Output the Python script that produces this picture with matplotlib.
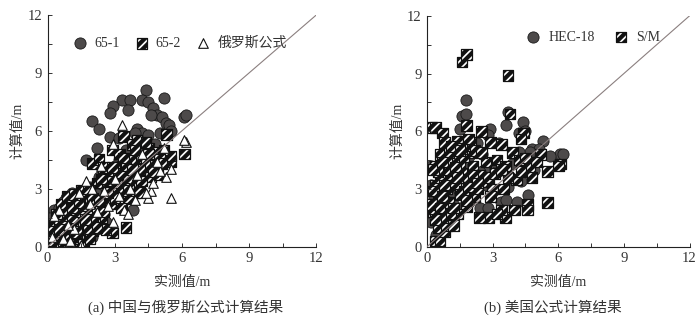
import matplotlib
matplotlib.use("Agg")
import matplotlib.pyplot as plt
from matplotlib.ticker import MultipleLocator

plt.rcParams["font.family"] = ["Liberation Serif", "Noto Sans CJK SC"]
plt.rcParams["hatch.linewidth"] = 3.0

# (a) China / Russia formulas
c651_x = [4.4, 3.3, 3.7, 4.2, 5.2, 4.5, 2.9, 3.6, 2.8, 4.7, 4.9, 4.6, 5.1, 6.1, 6.2, 2.0, 2.3, 4.0,
          4.2, 3.9, 5.3, 5.4, 5.5, 5.0, 2.8, 3.2, 4.5, 2.2, 3.5, 1.7, 3.2, 3.3, 2.3, 2.6, 0.8, 1.1,
          3.8, 0.5, 0.2, 0.3, 0.4, 0.6, 0.7, 0.9, 1.0, 1.2, 1.3, 1.4, 1.5, 1.6, 1.8, 1.9, 2.1, 0.1,
          0.3, 0.5, 0.6, 0.8, 1.0, 1.1, 1.3, 1.5, 1.7, 0.2, 0.4, 0.7, 0.9, 1.2, 1.4, 1.6, 0.3, 0.6,
          0.8, 1.0, 1.2, 0.5, 0.9, 1.5, 1.1, 0.4, 2.4, 2.7, 3.0, 3.4, 4.1, 4.3, 4.8, 1.9, 2.2, 0.7,
          0.1, 0.2, 0.3, 0.4, 0.5, 0.6, 0.7, 0.8, 0.9, 1.0, 1.1, 1.2, 1.3, 1.4, 1.6, 1.7, 1.8, 2.0,
          0.2, 0.4, 0.6, 0.8, 1.0, 1.2, 1.4, 1.6, 1.8, 2.0, 2.2, 0.3, 0.5, 0.7, 0.9, 1.1, 1.3, 1.5,
          1.7, 1.9, 2.1, 2.3, 0.1, 0.4, 0.8, 1.2, 1.6, 2.0, 2.5, 0.6, 1.0, 1.4, 1.8, 2.2, 2.6]
c651_y = [8.1, 7.6, 7.6, 7.6, 7.7, 7.5, 7.3, 7.1, 6.9, 7.2, 6.8, 6.8, 6.7, 6.7, 6.8, 6.5, 6.1, 6.1,
          5.9, 5.9, 6.4, 6.3, 6.0, 5.9, 5.7, 5.6, 5.8, 5.1, 5.0, 4.5, 4.5, 4.3, 3.6, 3.3, 2.5, 2.8,
          1.9, 1.7, 0.4, 1.0, 1.3, 0.9, 1.6, 2.0, 2.3, 1.8, 2.6, 2.1, 1.4, 2.4, 2.0, 1.7, 2.2, 0.2,
          0.1, 0.6, 0.3, 0.7, 1.1, 0.5, 0.9, 0.8, 1.2, 0.8, 0.3, 1.1, 1.4, 1.5, 1.0, 1.7, 1.9, 2.1,
          1.6, 0.6, 0.2, 1.2, 0.4, 0.0, 0.9, 0.7, 2.9, 3.0, 4.2, 3.9, 5.2, 4.9, 5.3, 3.1, 2.7, 0.1,
          0.7, 1.2, 0.6, 0.9, 1.4, 1.8, 0.3, 1.2, 0.6, 1.7, 1.3, 0.4, 2.1, 1.5, 0.6, 1.9, 1.0, 2.5,
          0.0, 1.6, 1.3, 2.1, 0.9, 2.4, 1.8, 1.0, 2.6, 1.5, 2.0, 0.5, 2.0, 2.3, 1.8, 2.6, 0.6, 2.0,
          0.4, 2.4, 1.2, 2.1, 1.5, 0.2, 0.4, 0.1, 0.3, 0.5, 1.7, 1.4, 0.1, 0.3, 0.7, 0.9, 1.3]
c652_x = [3.4, 5.3, 6.1, 5.5, 5.5, 3.5, 2.9, 2.0, 2.3, 2.9, 3.8, 4.5, 4.7, 5.2, 4.2, 3.0, 3.3, 3.6,
          4.0, 4.3, 4.6, 2.2, 2.6, 2.8, 3.1, 3.4, 3.9, 4.4, 2.1, 1.8, 1.5, 2.4, 2.0, 2.6, 1.2, 0.9,
          0.6, 0.4, 1.6, 1.3, 1.0, 2.7, 3.7, 4.1, 4.8, 5.0, 3.2, 4.0, 4.4, 3.6, 2.5, 1.9, 1.6, 0.8,
          0.3, 1.4, 2.3, 3.0, 3.5, 4.9, 2.8, 1.7, 1.1, 0.5, 2.1, 3.8, 4.2, 3.4, 2.7, 3.1, 3.6, 4.5,
          5.1, 2.4, 2.9, 3.9, 4.7, 1.8, 2.2, 3.3, 4.1, 0.7, 1.2,
          0.2, 0.4, 0.6, 0.8, 1.0, 1.2, 1.4, 1.6, 1.8, 2.0, 0.3, 0.5, 0.7, 0.9, 1.1, 1.3, 1.5, 1.7,
          1.9, 0.2, 0.5, 0.8, 1.1, 1.4, 1.7, 2.0, 2.3, 0.4, 0.7, 1.0, 1.3, 1.6, 1.9, 2.2, 2.5, 0.6,
          0.9, 1.2, 1.5, 1.8]
c652_y = [5.7, 5.8, 4.8, 4.4, 4.7, 1.0, 0.7, 4.3, 4.5, 5.0, 5.3, 5.1, 4.9, 5.0, 4.6, 4.0, 3.8, 3.5,
          3.2, 3.9, 3.6, 3.3, 2.6, 2.2, 2.9, 3.0, 2.8, 4.3, 2.2, 1.8, 1.6, 1.5, 0.8, 0.9, 1.2, 0.8,
          0.6, 0.3, 0.5, 2.2, 1.7, 3.7, 4.5, 4.0, 4.2, 4.5, 4.8, 5.5, 5.4, 2.5, 4.1, 2.9, 2.5, 1.3,
          0.8, 0.2, 2.0, 2.5, 4.2, 3.7, 3.4, 1.1, 0.4, 1.0, 1.3, 4.0, 3.4, 4.6, 2.8, 3.3, 2.9, 4.8,
          4.3, 3.5, 4.1, 5.0, 3.9, 2.6, 1.9, 2.0, 2.8, 0.9, 0.5,
          0.3, 0.6, 0.2, 0.5, 0.4, 0.8, 0.6, 1.0, 0.9, 1.3, 1.1, 1.4, 1.2, 1.6, 1.5, 1.9, 1.8, 2.1,
          2.3, 0.8, 0.9, 1.9, 2.0, 2.3, 1.4, 2.5, 2.4, 1.7, 0.0, 0.1, 0.7, 0.1, 0.4, 1.0, 1.8, 2.2,
          2.6, 2.7, 2.9, 3.0]
rus_x = [3.3, 5.5, 6.2, 6.1, 1.7, 2.9, 5.3, 5.5, 4.5, 4.6, 3.4, 3.6, 4.4, 2.9, 3.9, 0.5, 0.3, 1.5,
         0.7, 2.2, 2.5, 3.0, 4.7, 5.2, 4.0, 1.2, 1.9, 2.7, 3.7, 4.2, 5.0, 0.9, 0.2, 1.0, 2.0, 2.4,
         3.2, 4.9, 1.4]
rus_y = [6.3, 2.5, 5.4, 5.5, 3.4, 5.3, 3.6, 4.0, 2.5, 2.9, 1.9, 1.7, 2.8, 1.3, 2.4, 1.9, 1.6, 0.1,
         0.4, 1.8, 2.9, 3.5, 3.3, 5.1, 3.7, 0.9, 2.2, 2.1, 3.0, 4.8, 3.9, 1.1, 0.5, 0.3, 3.0, 4.2,
         2.6, 4.4, 2.8]

# (b) US formulas
hec_x = [1.8, 1.6, 1.8, 3.7, 3.6, 4.4, 1.5, 2.9, 2.8, 4.5, 4.2, 5.3, 3.3, 6.1, 6.2, 5.6, 4.8, 5.1,
         4.7, 4.6, 2.4, 2.8, 3.4, 3.6, 4.1, 2.6, 0.2, 0.2, 0.1, 0.2, 3.0, 3.8, 2.2, 1.3, 1.0, 0.8,
         0.6, 1.2, 1.9, 0.5, 0.7, 1.5, 2.0, 3.2, 3.9, 4.3, 4.9, 1.4, 1.1, 2.3, 0.4, 0.6, 2.5, 3.5,
         0.3, 0.9, 1.7, 2.1, 2.7, 3.1, 0.5, 1.2, 1.6, 2.4, 0.4, 0.8, 1.3, 1.9, 3.7, 4.2]
hec_y = [7.6, 6.8, 6.9, 7.0, 6.3, 6.5, 6.1, 6.1, 5.8, 6.0, 5.9, 5.5, 5.4, 4.8, 4.8, 4.7, 5.1, 5.1,
         4.9, 2.7, 2.0, 2.0, 2.3, 2.4, 2.3, 4.0, 4.2, 3.2, 1.8, 1.3, 2.9, 3.6, 3.3, 3.0, 2.7, 4.5,
         3.8, 4.4, 4.7, 2.2, 1.7, 2.0, 2.6, 3.9, 4.3, 3.4, 4.0, 5.2, 5.0, 5.4, 0.6, 1.1, 4.8, 4.0,
         2.6, 3.5, 3.6, 3.0, 3.2, 4.4, 3.1, 2.2, 4.2, 3.9, 1.9, 2.4, 3.8, 2.3, 3.1, 4.9]
sm_x = [1.6, 1.8, 3.7, 3.8, 0.2, 0.4, 0.7, 1.8, 2.5, 2.9, 0.8, 1.4, 2.0, 3.4, 4.4, 4.3, 5.2, 6.1,
        6.0, 5.5, 5.5, 4.6, 4.6, 4.0, 3.6, 3.4, 2.8, 2.4, 3.2, 0.4, 0.6, 0.8, 0.5, 0.9, 1.2, 0.3,
        0.5, 0.4, 0.6, 0.4, 1.0, 1.3, 1.6, 2.1, 2.6, 3.0, 3.2, 3.9, 4.2, 4.7, 5.0, 4.1, 3.5, 2.2,
        1.8, 1.4, 1.0, 2.7, 1.2, 2.0, 0.9, 1.7, 2.4, 3.6, 4.5, 4.8, 2.9, 0.7, 1.1, 0.2, 1.5, 4.3,
        3.7, 2.3, 1.9, 0.6, 0.3, 0.5, 0.7, 0.9, 1.1, 1.3, 1.5, 1.7, 1.9, 2.1, 0.4, 0.6, 0.8, 1.0,
        1.2, 1.4, 1.6, 1.8, 2.2, 2.5, 0.3, 0.7, 1.1, 1.5, 1.9, 2.3, 2.8, 3.1, 3.4]
sm_y = [9.6, 10.0, 8.9, 6.9, 6.2, 6.2, 5.9, 6.3, 6.0, 5.4, 5.4, 5.5, 4.9, 5.3, 5.9, 5.6, 4.8, 4.3,
        4.2, 3.9, 2.3, 2.2, 1.9, 1.9, 1.5, 1.9, 1.5, 1.5, 1.7, 0.3, 0.3, 0.8, 1.0, 1.1, 1.1, 1.8,
        2.5, 3.2, 3.6, 4.2, 4.0, 3.2, 3.8, 4.2, 3.4, 3.0, 4.5, 4.9, 4.5, 4.1, 4.4, 3.5, 3.0, 2.6,
        2.1, 1.7, 2.3, 4.4, 4.6, 5.4, 3.0, 2.9, 3.7, 4.2, 4.6, 3.6, 2.6, 1.5, 1.7, 2.2, 4.3, 3.9,
        3.6, 3.0, 3.5, 4.8, 2.9, 3.9, 2.6, 4.4, 3.4, 4.1, 2.7, 4.7, 3.1, 3.7, 1.4, 2.0, 3.2, 4.9,
        2.0, 3.6, 5.1, 2.4, 5.0, 4.9, 4.0, 4.4, 5.2, 5.0, 5.6, 3.3, 3.6, 3.8, 4.0]

ticks = [0, 3, 6, 9, 12]
txt = "#333333"

fig = plt.figure(figsize=(7.0, 3.17), dpi=100)
ax1 = fig.add_axes([0.068, 0.222, 0.384, 0.731])
ax2 = fig.add_axes([0.610, 0.222, 0.375, 0.728])

circ = dict(marker="o", s=65, facecolor="#4d4a4a", edgecolor="#1a1a1a", linewidths=0.6)
sq = dict(marker="s", s=58, facecolor="white", edgecolor="#111111", hatch="////", linewidths=0.9)
tri = dict(marker="^", s=48, facecolor="white", edgecolor="#111111", linewidths=0.8)

ax1.scatter(c651_x, c651_y, label="65-1", **circ)
ax1.scatter(c652_x, c652_y, label="65-2", **sq)
ax1.scatter(rus_x, rus_y, label="俄罗斯公式", **tri)

ax2.scatter(hec_x, hec_y, label="HEC-18", **circ)
ax2.scatter(sm_x, sm_y, label="S/M", **sq)

for ax in (ax1, ax2):
    ax.plot([0, 12], [0, 12], color="#8a7f7f", lw=0.8, zorder=3)
    ax.set_xlim(0, 12)
    ax.set_ylim(0, 12)
    ax.set_xticks(ticks)
    ax.set_yticks(ticks)
    ax.xaxis.set_minor_locator(MultipleLocator(1.5))
    ax.yaxis.set_minor_locator(MultipleLocator(1.5))
    ax.tick_params(which="both", direction="in", length=3, width=0.7, colors=txt,
                   labelsize=10.5, pad=4)
    for s in ("top", "right"):
        ax.spines[s].set_visible(False)
    for s in ("left", "bottom"):
        ax.spines[s].set_color("#222222")
        ax.spines[s].set_linewidth(0.8)
    ax.set_xlabel("实测值/m", fontsize=10, color=txt, labelpad=8)
    ax.set_ylabel("计算值/m", fontsize=10, color=txt, labelpad=2)

ax1.legend(loc="upper left", bbox_to_anchor=(0.05, 0.93), ncol=3, frameon=False, fontsize=10,
           handletextpad=0.0, columnspacing=0.6, borderaxespad=0, labelcolor=txt)
ax2.legend(loc="upper left", bbox_to_anchor=(0.33, 0.96), ncol=2, frameon=False, fontsize=10,
           handletextpad=0.1, columnspacing=0.9, borderaxespad=0, labelcolor=txt)

fig.text(0.265, 0.015, "(a) 中国与俄罗斯公式计算结果", ha="center", fontsize=10.5, color=txt)
fig.text(0.79, 0.015, "(b) 美国公式计算结果", ha="center", fontsize=10.5, color=txt)

fig.savefig("out.png", dpi=100)
